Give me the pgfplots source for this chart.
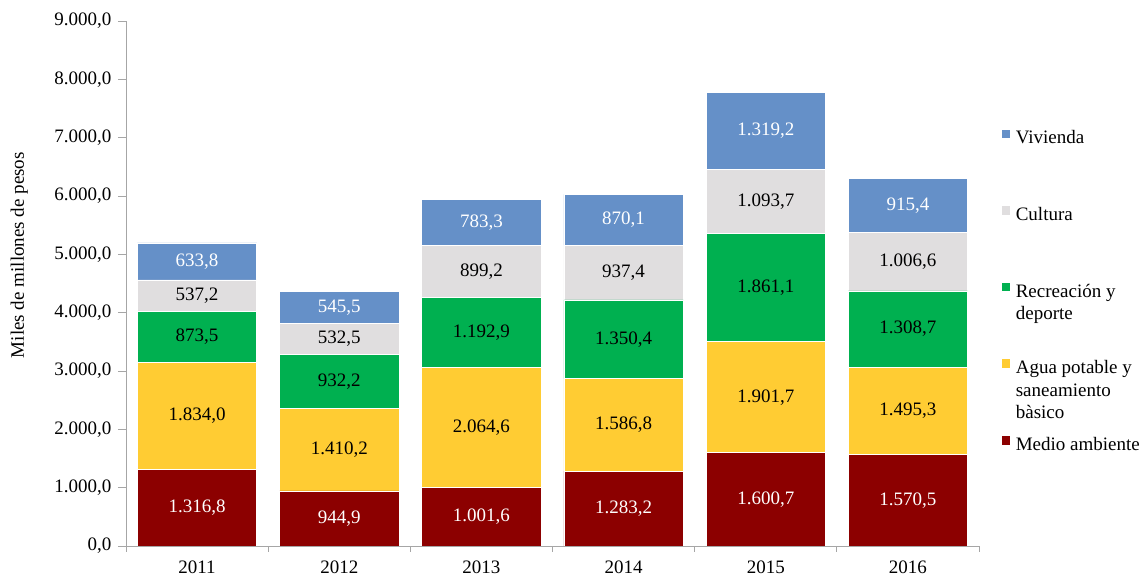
\documentclass[border=0pt]{standalone}
\usepackage{pgfplots}
\pgfplotsset{compat=1.18}
\usepackage{pgfplotstable}
\usepackage{fontspec}
\setmainfont{Liberation Serif}
\definecolor{cMed}{HTML}{8C0000}
\definecolor{cAgua}{HTML}{FFCC33}
\definecolor{cRec}{HTML}{00B050}
\definecolor{cCul}{HTML}{E0DEDF}
\definecolor{cViv}{HTML}{6590C8}
\definecolor{axisgray}{HTML}{A6A6A6}

\pgfplotstableread{
x med agua rec cul viv
0 1316.8 1834.0 873.5 537.2 633.8
1 944.9 1410.2 932.2 532.5 545.5
2 1001.6 2064.6 1192.9 899.2 783.3
3 1283.2 1586.8 1350.4 937.4 870.1
4 1600.7 1901.7 1861.1 1093.7 1319.2
5 1570.5 1495.3 1308.7 1006.6 915.4
}\datatable

\pgfkeys{/pgf/number format/.cd, fixed, fixed zerofill, precision=1, use comma, 1000 sep={.}, assume math mode=true}

\pgfplotsset{
  lbl/.style={
    visualization depends on={\thisrow{#1} \as \rawy},
    nodes near coords={\pgfmathprintnumber{\rawy}},
    every node near coord/.append style={anchor=center},
  },
}

\begin{document}
\fontsize{19}{22.5}\selectfont
\begin{tikzpicture}
\path[use as bounding box] (0,0) rectangle (1146pt,577pt);
\begin{axis}[
  at={(126pt,31pt)}, anchor=south west,
  scale only axis, width=853pt, height=525pt,
  ybar stacked, bar width=0.84,
  xmin=-0.5, xmax=5.5, ymin=0, ymax=9000,
  xtick={0,...,5}, xticklabels={2011,2012,2013,2014,2015,2016},
  minor xtick={-0.5,0.5,...,5.5},
  ytick={0,1000,...,9000},
  scaled y ticks=false,
  axis lines=left,
  axis line style={-, draw=axisgray, line width=0.8pt},
  tick align=outside,
  major tick length=8pt, minor tick length=6pt,
  tick style={draw=axisgray, line width=0.8pt},
  major x tick style={draw=none},
  every axis plot/.append style={draw=white, line width=0.6pt},
  ylabel={Miles de millones de pesos},
  ylabel style={at={(axis description cs:-0.125,0.554)}, anchor=center},
  legend style={at={(axis description cs:1.0223,0.80)}, anchor=north west,
    draw=none, fill=none, inner xsep=3pt, inner ysep=2pt,
    nodes={inner sep=0pt}, column sep=5pt, row sep=58pt},
  legend cell align=left,
  reverse legend,
  legend image code/.code={\fill[#1] (0pt,-1pt) rectangle (9pt,8.5pt);},
]
\addplot[fill=cMed, lbl=med, every node near coord/.append style={text=white}] table[x=x,y=med] {\datatable};
\addlegendentry{\strut Medio ambiente}
\addplot[fill=cAgua, lbl=agua] table[x=x,y=agua] {\datatable};
\addlegendentry{\begin{tabular}[t]{@{}l@{}}Agua potable y\\ saneamiento\\ bàsico\end{tabular}}
\addplot[fill=cRec, lbl=rec] table[x=x,y=rec] {\datatable};
\addlegendentry{\begin{tabular}[t]{@{}l@{}}Recreación y\\ deporte\end{tabular}}
\addplot[fill=cCul, lbl=cul] table[x=x,y=cul] {\datatable};
\addlegendentry{\strut Cultura}
\addplot[fill=cViv, lbl=viv, every node near coord/.append style={text=white}] table[x=x,y=viv] {\datatable};
\addlegendentry{\strut Vivienda}
\end{axis}
\end{tikzpicture}
\end{document}
